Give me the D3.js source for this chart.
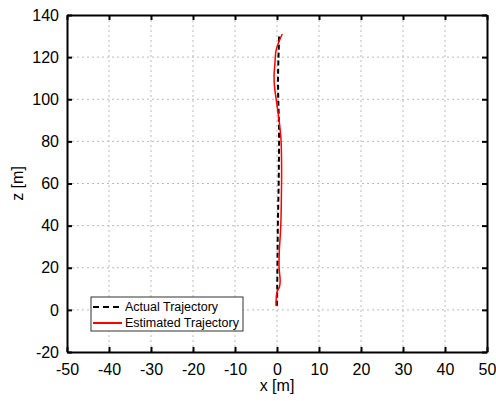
<!DOCTYPE html>
<html>
<head>
<meta charset="utf-8">
<script src="https://d3js.org/d3.v7.min.js"></script>
<style>
  body { margin: 0; background: #fff; }
  svg { font-family: "Liberation Sans", Arial, sans-serif; }
</style>
</head>
<body>
<div id="chart"></div>
<script>
// trajectory data [x, z]
const actualX = [0.0, 0.05, 0.1, 0.15, 0.2, 0.3, 0.4, 0.45, 0.5, 0.45, 0.3, 0.25, 0.35, 0.45, 0.5];
const actualZ = [2, 10, 20, 30, 40, 50, 60, 70, 80, 90, 100, 110, 120, 126, 130];
const estX = [-0.25, -0.2, 0.0, 0.6, 0.75, 0.5, 0.55, 0.8, 0.95, 1.05, 1.1, 1.05, 0.95, 0.5, -0.2, -0.6, -0.7, -0.5, -0.25, 0.4, 1.25];
const estZ = [2, 5, 8.5, 11, 14, 20, 28, 36, 43, 55, 65, 75, 81, 90, 100, 106, 111, 117, 123, 127, 131];
const xTicks = d3.range(-50, 51, 10);
const zTicks = d3.range(-20, 141, 20);
const seriesNames = ["Actual Trajectory", "Estimated Trajectory"];

const width = 496, height = 401;
const margin = { top: 15, right: 9, bottom: 49, left: 67 };

const svg = d3.select("#chart").append("svg")
    .attr("width", width)
    .attr("height", height);

const x = d3.scaleLinear().domain([-50, 50]).range([margin.left, width - margin.right]);
const y = d3.scaleLinear().domain([-20, 140]).range([height - margin.bottom, margin.top]);

// grid
svg.append("g").selectAll("line")
    .data(xTicks.slice(1, -1))
    .enter().append("line")
    .attr("x1", d => x(d)).attr("x2", d => x(d))
    .attr("y1", y(-20)).attr("y2", y(140))
    .attr("stroke", "#bbb").attr("stroke-dasharray", "2,3");
svg.append("g").selectAll("line")
    .data(zTicks.slice(1, -1))
    .enter().append("line")
    .attr("x1", x(-50)).attr("x2", x(50))
    .attr("y1", d => y(d)).attr("y2", d => y(d))
    .attr("stroke", "#bbb").attr("stroke-dasharray", "2,3");

// axes (inward ticks on all sides), plain hyphen for negatives
const fmt = d => String(d);
svg.append("g")
    .attr("transform", `translate(0,${y(-20)})`)
    .call(d3.axisBottom(x).tickValues(xTicks).tickFormat(fmt).tickSizeInner(-5).tickSizeOuter(0).tickPadding(12));
svg.append("g")
    .attr("transform", `translate(${x(-50)},0)`)
    .call(d3.axisLeft(y).tickValues(zTicks).tickFormat(fmt).tickSizeInner(-5).tickSizeOuter(0).tickPadding(8));
svg.append("g")
    .attr("transform", `translate(0,${y(140)})`)
    .call(d3.axisTop(x).tickValues(xTicks).tickFormat("").tickSizeInner(-5).tickSizeOuter(0));
svg.append("g")
    .attr("transform", `translate(${x(50)},0)`)
    .call(d3.axisRight(y).tickValues(zTicks).tickFormat("").tickSizeInner(-5).tickSizeOuter(0));

svg.selectAll(".domain").attr("stroke", "#000").attr("stroke-width", 2);
svg.selectAll(".tick line").attr("stroke", "#000").attr("stroke-width", 2);
svg.selectAll(".tick text").attr("font-size", 16).attr("fill", "#000")
    .attr("font-family", "Liberation Sans, Arial, sans-serif");

// lines
const line = d3.line().curve(d3.curveCatmullRom).x(d => x(d[0])).y(d => y(d[1]));
const actual = actualX.map((v, i) => [v, actualZ[i]]);
const est = estX.map((v, i) => [v, estZ[i]]);

svg.append("path").datum(actual)
    .attr("d", line).attr("fill", "none")
    .attr("stroke", "#000").attr("stroke-width", 2).attr("stroke-dasharray", "5,3");
svg.append("path").datum(est)
    .attr("d", line).attr("fill", "none")
    .attr("stroke", "#ff0000").attr("stroke-width", 1.5);

// axis labels
svg.append("text")
    .attr("x", x(0)).attr("y", 391)
    .attr("text-anchor", "middle").attr("font-size", 16)
    .text("x [m]");
svg.append("text")
    .attr("transform", `translate(23,${(y(-20) + y(140)) / 2}) rotate(-90)`)
    .attr("text-anchor", "middle").attr("font-size", 16)
    .text("z [m]");

// legend
const lg = svg.append("g").attr("transform", "translate(91,297)");
lg.append("rect").attr("width", 152).attr("height", 34)
    .attr("fill", "#fff").attr("stroke", "#333").attr("stroke-width", 1);
const styles = [{ c: "#000", dash: "6,4" }, { c: "#ff0000", dash: null }];
seriesNames.forEach((name, i) => {
    const yy = 10 + i * 16;
    lg.append("line")
        .attr("x1", 2).attr("x2", 31).attr("y1", yy).attr("y2", yy)
        .attr("stroke", styles[i].c).attr("stroke-width", 2)
        .attr("stroke-dasharray", styles[i].dash);
    lg.append("text")
        .attr("x", 34).attr("y", yy + 4)
        .attr("font-size", 12.5)
        .text(name);
});
</script>
</body>
</html>
